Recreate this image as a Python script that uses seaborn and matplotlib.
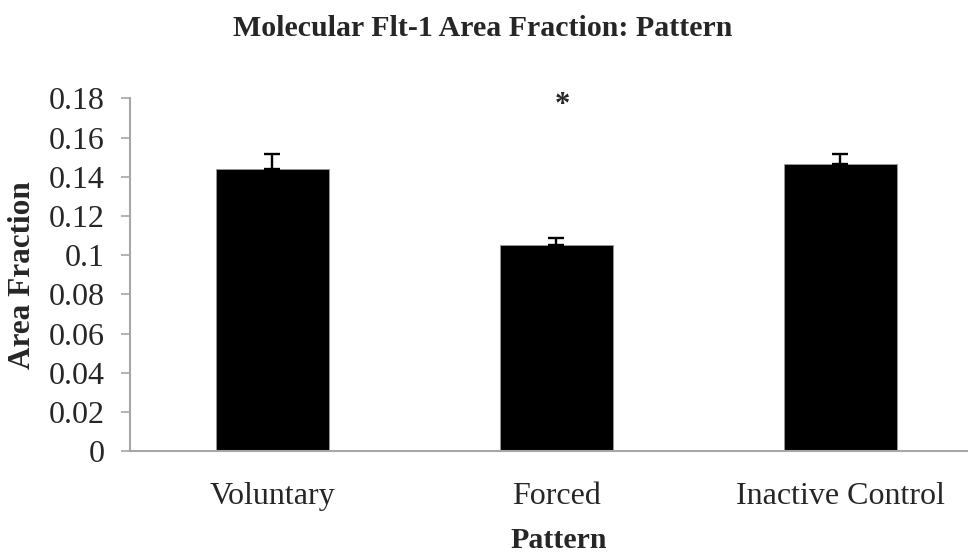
import matplotlib
matplotlib.use("Agg")
import matplotlib.pyplot as plt
import seaborn as sns
import pandas as pd
import numpy as np

categories = ["Voluntary", "Forced", "Inactive Control"]
values = [0.1441, 0.1052, 0.1463]
errors = [0.0077, 0.0037, 0.0055]
yticks = [0, 0.02, 0.04, 0.06, 0.08, 0.1, 0.12, 0.14, 0.16, 0.18]
ytick_labels = ["0", "0.02", "0.04", "0.06", "0.08", "0.1", "0.12", "0.14", "0.16", "0.18"]
significance = ["", "*", ""]

sns.set_theme(style="white")
plt.rcParams['font.family'] = ['Liberation Serif', 'DejaVu Serif']

df = pd.DataFrame({"Pattern": categories, "Area Fraction": values})

W, H = 968, 554
fig = plt.figure(figsize=(W / 100, H / 100), dpi=100)
ax_left, ax_right = 130.3, 968
ax_top, ax_bottom = 98.3, 451.3
ax = fig.add_axes([ax_left / W, (H - ax_bottom) / H, (ax_right - ax_left) / W, (ax_bottom - ax_top) / H])

sns.barplot(data=df, x="Pattern", y="Area Fraction", color="black", width=0.40,
            errorbar=None, ax=ax, saturation=1)
for p in ax.patches:
    p.set_edgecolor("#9a9a9a")
    p.set_linewidth(0.6)

x = np.arange(len(categories))
ax.errorbar(x, values, yerr=[np.zeros(len(values)), errors], fmt="none",
            ecolor="black", elinewidth=1.7, capsize=5.8, capthick=1.7)

for xi, s in zip(x, significance):
    if s:
        ax.text(xi + 0.02, 0.1765, s, ha="center", va="center", fontsize=22, fontweight="bold")

span_px = 284.0
ax.set_xlim(-0.5, -0.5 + (ax_right - ax_left) / span_px)
ax.set_ylim(0, 0.18)
ax.set_yticks(yticks)
ax.set_yticklabels(ytick_labels)
ax.tick_params(axis="y", left=True, length=6.5, width=1.2, color="#a6a6a6", labelsize=23, pad=12)
ax.tick_params(axis="x", bottom=False, labelsize=23, pad=16)

for side in ["top", "right"]:
    ax.spines[side].set_visible(False)
for side in ["left", "bottom"]:
    ax.spines[side].set_color("#a6a6a6")
    ax.spines[side].set_linewidth(1.5)

ax.set_xlabel("")
ax.set_ylabel("")
fig.text(559 / W, 1 - 540 / H, "Pattern", ha="center", va="center", fontsize=21.5, fontweight="bold")
fig.text(23 / W, 1 - 275 / H, "Area Fraction", ha="center", va="center", rotation=90,
         fontsize=22.5, fontweight="bold")
fig.text(483 / W, 1 - 28 / H, "Molecular Flt-1 Area Fraction: Pattern", ha="center", va="center",
         fontsize=21.5, fontweight="bold")

fig.savefig("out.png", dpi=100)
